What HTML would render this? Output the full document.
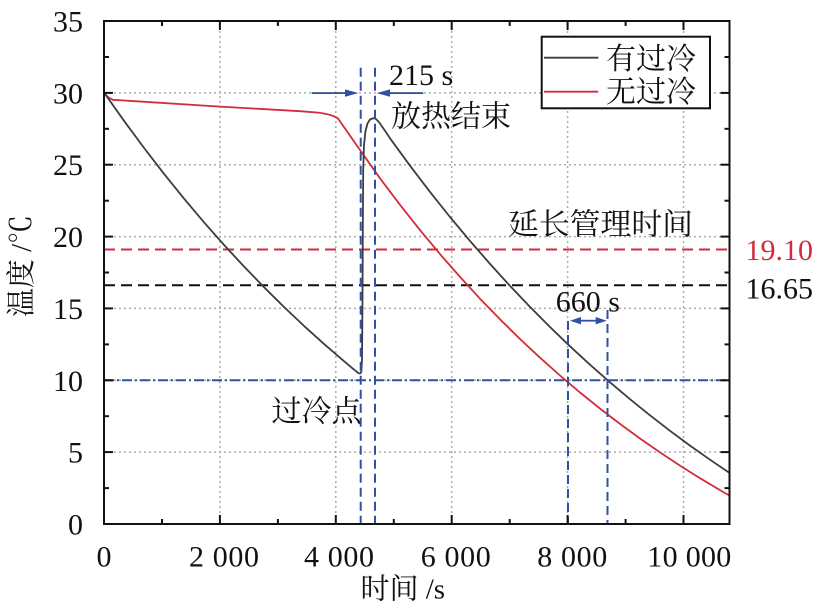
<!DOCTYPE html>
<html><head><meta charset="utf-8"><style>
html,body{margin:0;padding:0;background:#fff;}
svg{display:block;}
.num{font-family:"Liberation Serif","Noto Serif CJK SC",serif;font-size:30px;fill:#111;}
.cjk{font-family:"Liberation Serif","Noto Serif CJK SC",serif;font-size:30px;fill:#111;}
</style></head><body>
<svg width="827" height="608" viewBox="0 0 827 608" xmlns="http://www.w3.org/2000/svg">
<rect width="827" height="608" fill="#fff"/>
<!-- grid -->
<g stroke="#ababab" stroke-width="1.5" stroke-dasharray="2 3" fill="none">
<line x1="219.9" y1="21" x2="219.9" y2="524"/>
<line x1="335.8" y1="21" x2="335.8" y2="524"/>
<line x1="451.7" y1="21" x2="451.7" y2="524"/>
<line x1="567.6" y1="21" x2="567.6" y2="524"/>
<line x1="683.5" y1="21" x2="683.5" y2="524"/>
<line x1="104" y1="452.1" x2="729.5" y2="452.1"/>
<line x1="104" y1="380.3" x2="729.5" y2="380.3"/>
<line x1="104" y1="308.4" x2="729.5" y2="308.4"/>
<line x1="104" y1="236.6" x2="729.5" y2="236.6"/>
<line x1="104" y1="164.7" x2="729.5" y2="164.7"/>
<line x1="104" y1="92.9" x2="729.5" y2="92.9"/>
</g>
<!-- reference lines -->
<line x1="104" y1="249.5" x2="729.5" y2="249.5" stroke="#d42b3b" stroke-width="2" stroke-dasharray="11 6"/>
<line x1="104" y1="285.2" x2="729.5" y2="285.2" stroke="#111" stroke-width="2" stroke-dasharray="11 6"/>
<line x1="104" y1="380.3" x2="729.5" y2="380.3" stroke="#2f51a3" stroke-width="2" stroke-dasharray="10 3 2 3"/>
<!-- curves -->
<path fill="none" stroke="#d42b3b" stroke-width="1.8" stroke-linejoin="round" d="M104 92.5 Q106 96.8 113 99.8 L220 106.6 L300 111.2 L318 112.6 Q332 114.2 338 118.5 L360 150 L380 178.3 L400 204.8 L420 230.1 L440 254.1 L460 276.9 L480 298.7 L500 319.3 L520 339 L540 357.7 L560 375.5 L580 392.5 L600 408.6 L620 423.9 L640 438.5 L660 452.4 L680 465.6 L700 478.2 L720 490.1 L730 495.9"/>
<path fill="none" stroke="#3d3d3d" stroke-width="1.8" stroke-linejoin="round" d="M104 92.5 L124 120.8 L144 147.9 L164 173.8 L184 198.6 L204 222.3 L224 244.9 L244 266.5 L264 287.2 L284 307 L304 325.9 L324 343.9 L344 361.2 L354 369.6 L358 372.8 L360 373.6 L361.3 372 L362 360 L362.5 300 L362.8 230 L363.2 170 L364 145 L365.5 131 L367.5 123.5 L370 119.5 L373 118.2 L375.5 118.6 L378 121 L380 123.5 L385 130.8 L390 138.3 L410 165.7 L430 191.9 L450 217 L470 240.9 L490 263.9 L510 285.9 L530 306.9 L550 327 L570 346.3 L590 364.7 L610 382.3 L630 399.2 L650 415.3 L670 430.8 L690 445.6 L710 459.7 L730 473.3"/>
<!-- blue annotation lines -->
<g stroke="#2f51a3" stroke-width="2" stroke-dasharray="9 5" fill="none">
<line x1="360.7" y1="67.7" x2="360.7" y2="524"/>
<line x1="375" y1="67.7" x2="375" y2="524"/>
<line x1="568" y1="321" x2="568" y2="524"/>
<line x1="607.5" y1="310" x2="607.5" y2="524"/>
</g>
<g fill="#2f51a3" stroke="none">
<rect x="311.7" y="92.2" width="35" height="1.8"/>
<polygon points="358.3,93.1 345,89.4 345,96.8"/>
<rect x="388" y="92.2" width="35.3" height="1.8"/>
<polygon points="376.7,93.1 390,89.4 390,96.8"/>
<rect x="578" y="319.8" width="20" height="1.8"/>
<polygon points="570,320.7 581,317 581,324.4"/>
<polygon points="606.7,320.7 595.7,317 595.7,324.4"/>
</g>
<!-- axes frame -->
<rect x="104" y="21" width="625.5" height="503" fill="none" stroke="#111" stroke-width="2"/>
<g stroke="#111" stroke-width="2">
<line x1="219.9" y1="524" x2="219.9" y2="515"/><line x1="335.8" y1="524" x2="335.8" y2="515"/><line x1="451.7" y1="524" x2="451.7" y2="515"/><line x1="567.6" y1="524" x2="567.6" y2="515"/><line x1="683.5" y1="524" x2="683.5" y2="515"/>
<line x1="219.9" y1="21" x2="219.9" y2="30"/><line x1="335.8" y1="21" x2="335.8" y2="30"/><line x1="451.7" y1="21" x2="451.7" y2="30"/><line x1="567.6" y1="21" x2="567.6" y2="30"/><line x1="683.5" y1="21" x2="683.5" y2="30"/>
<line x1="162" y1="524" x2="162" y2="519"/><line x1="277.9" y1="524" x2="277.9" y2="519"/><line x1="393.8" y1="524" x2="393.8" y2="519"/><line x1="509.7" y1="524" x2="509.7" y2="519"/><line x1="625.6" y1="524" x2="625.6" y2="519"/>
<line x1="162" y1="21" x2="162" y2="26"/><line x1="277.9" y1="21" x2="277.9" y2="26"/><line x1="393.8" y1="21" x2="393.8" y2="26"/><line x1="509.7" y1="21" x2="509.7" y2="26"/><line x1="625.6" y1="21" x2="625.6" y2="26"/>
<line x1="104" y1="452.1" x2="113" y2="452.1"/><line x1="104" y1="380.3" x2="113" y2="380.3"/><line x1="104" y1="308.4" x2="113" y2="308.4"/><line x1="104" y1="236.6" x2="113" y2="236.6"/><line x1="104" y1="164.7" x2="113" y2="164.7"/><line x1="104" y1="92.9" x2="113" y2="92.9"/>
<line x1="729.5" y1="452.1" x2="720.5" y2="452.1"/><line x1="729.5" y1="380.3" x2="720.5" y2="380.3"/><line x1="729.5" y1="308.4" x2="720.5" y2="308.4"/><line x1="729.5" y1="236.6" x2="720.5" y2="236.6"/><line x1="729.5" y1="164.7" x2="720.5" y2="164.7"/><line x1="729.5" y1="92.9" x2="720.5" y2="92.9"/>
<line x1="104" y1="488.1" x2="109" y2="488.1"/><line x1="104" y1="416.2" x2="109" y2="416.2"/><line x1="104" y1="344.4" x2="109" y2="344.4"/><line x1="104" y1="272.5" x2="109" y2="272.5"/><line x1="104" y1="200.7" x2="109" y2="200.7"/><line x1="104" y1="128.8" x2="109" y2="128.8"/><line x1="104" y1="57" x2="109" y2="57"/>
<line x1="729.5" y1="488.1" x2="724.5" y2="488.1"/><line x1="729.5" y1="416.2" x2="724.5" y2="416.2"/><line x1="729.5" y1="344.4" x2="724.5" y2="344.4"/><line x1="729.5" y1="272.5" x2="724.5" y2="272.5"/><line x1="729.5" y1="200.7" x2="724.5" y2="200.7"/><line x1="729.5" y1="128.8" x2="724.5" y2="128.8"/><line x1="729.5" y1="57" x2="724.5" y2="57"/>
</g>
<!-- legend -->
<rect x="541.7" y="36.7" width="168.3" height="71.6" fill="#fff" stroke="#111" stroke-width="2"/>
<line x1="544" y1="57.7" x2="598.3" y2="57.7" stroke="#3d3d3d" stroke-width="1.8"/>
<line x1="544" y1="91.7" x2="598.3" y2="91.7" stroke="#d42b3b" stroke-width="1.8"/>
<text class="cjk" x="606" y="68.9">有过冷</text>
<text class="cjk" x="606" y="101.9">无过冷</text>
<!-- y tick labels -->
<g class="num" text-anchor="end">
<text x="83" y="534.5">0</text>
<text x="83" y="462.6">5</text>
<text x="83" y="390.8">10</text>
<text x="83" y="318.9">15</text>
<text x="83" y="247.1">20</text>
<text x="83" y="175.2">25</text>
<text x="83" y="103.4">30</text>
<text x="83" y="31.5">35</text>
</g>
<!-- x tick labels -->
<g class="num">
<text x="104" y="566.7" text-anchor="middle">0</text>
<text x="189" y="566.7" textLength="70" lengthAdjust="spacing">2 000</text>
<text x="304" y="566.7" textLength="70" lengthAdjust="spacing">4 000</text>
<text x="420.7" y="566.7" textLength="70" lengthAdjust="spacing">6 000</text>
<text x="537.3" y="566.7" textLength="70" lengthAdjust="spacing">8 000</text>
<text x="647.3" y="566.7" textLength="84" lengthAdjust="spacing">10 000</text>
</g>
<!-- axis titles -->
<text class="cjk" x="360.5" y="598.5" style="font-size:29px">时间 /s</text>
<text class="cjk" transform="translate(31,266) rotate(-90)" text-anchor="middle" style="font-size:29px">温度 /℃</text>
<!-- annotations -->
<text class="num" x="389" y="85">215 s</text>
<text class="cjk" x="391" y="126.4">放热结束</text>
<text class="cjk" x="508" y="234.7" textLength="185" lengthAdjust="spacingAndGlyphs">延长管理时间</text>
<text class="num" x="555.7" y="311.7">660 s</text>
<text class="cjk" x="271.5" y="421.4">过冷点</text>
<text class="num" x="745.5" y="260" style="fill:#d42b3b">19.10</text>
<text class="num" x="745.5" y="298.3">16.65</text>
</svg>
</body></html>
